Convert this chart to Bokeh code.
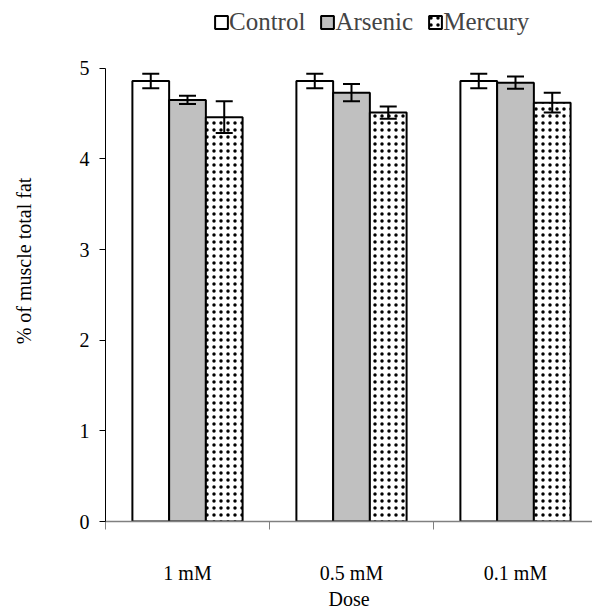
from bokeh.plotting import figure
from bokeh.models import (Range1d, FixedTicker, Whisker, TeeHead, ColumnDataSource,
                          Legend, LegendItem)
from bokeh.embed import file_html
from bokeh.resources import INLINE

doses = ["1 mM", "0.5 mM", "0.1 mM"]
series = ["Control", "Arsenic", "Mercury"]
control = [4.86, 4.86, 4.86]
arsenic = [4.65, 4.73, 4.84]
mercury = [4.46, 4.51, 4.62]
control_err = [0.08, 0.08, 0.08]
arsenic_err = [0.045, 0.095, 0.068]
mercury_err = [0.175, 0.067, 0.11]
y_ticks = [0, 1, 2, 3, 4, 5]

FONT = "Liberation Serif"
bar_w = 0.224
offsets = [-bar_w, 0.0, bar_w]
centers = [i + 0.5 for i in range(len(doses))]

p = figure(width=592, height=612, output_backend="svg", toolbar_location=None,
           x_range=Range1d(0, 487 / 164), y_range=Range1d(0, 531 / 92.4),
           min_border_left=105, min_border_right=0, min_border_top=0, min_border_bottom=81)
p.outline_line_color = None
p.xgrid.visible = False
p.ygrid.visible = False
p.background_fill_color = "white"
p.border_fill_color = "white"

styles = [
    dict(fill_color="white"),
    dict(fill_color="#C0C0C0"),
    dict(fill_color="white", hatch_pattern="dot", hatch_color="black", hatch_scale=7, hatch_weight=4),
]
vals = [control, arsenic, mercury]
errs = [control_err, arsenic_err, mercury_err]
renderers = []
for k in range(3):
    xs = [c + offsets[k] for c in centers]
    src = ColumnDataSource(dict(x=xs, top=vals[k],
                                upper=[v + e for v, e in zip(vals[k], errs[k])],
                                lower=[v - e for v, e in zip(vals[k], errs[k])]))
    r = p.vbar(x="x", top="top", width=bar_w, bottom=0, source=src,
               line_color="black", line_width=2, **styles[k])
    renderers.append(r)
    w = Whisker(base="x", upper="upper", lower="lower", source=src, dimension="height",
                line_color="black", line_width=2, level="annotation",
                upper_head=TeeHead(size=17, line_width=2, line_color="black"),
                lower_head=TeeHead(size=17, line_width=2, line_color="black"))
    p.add_layout(w)

# x axis
p.xaxis.ticker = FixedTicker(ticks=centers, minor_ticks=[0, 1, 2, 3])
p.xaxis.major_label_overrides = {c: d for c, d in zip(centers, doses)}
p.xaxis.major_tick_out = 0
p.xaxis.major_tick_in = 0
p.xaxis.minor_tick_out = 8
p.xaxis.minor_tick_in = 0
p.xaxis.minor_tick_line_color = "#808080"
p.xaxis.axis_line_color = "#808080"
p.xaxis.axis_line_width = 1.5
p.xaxis.major_label_standoff = 32
p.xaxis.axis_label = "Dose"
p.xaxis.axis_label_standoff = 1

# y axis
p.yaxis.ticker = FixedTicker(ticks=y_ticks)
p.yaxis.bounds = (y_ticks[0], y_ticks[-1])
p.yaxis.minor_tick_line_color = None
p.yaxis.major_tick_out = 6
p.yaxis.major_tick_in = 0
p.yaxis.axis_line_color = "black"
p.yaxis.major_label_standoff = 10
p.yaxis.axis_label = "% of muscle total fat"
p.yaxis.axis_label_standoff = 42

for ax in (p.xaxis, p.yaxis):
    ax.major_label_text_font = FONT
    ax.major_label_text_font_size = "20px"
    ax.major_label_text_color = "black"
    ax.axis_label_text_font = FONT
    ax.axis_label_text_font_size = "20px"
    ax.axis_label_text_font_style = "normal"
    ax.axis_label_text_color = "black"

legend = Legend(items=[LegendItem(label=s, renderers=[r]) for s, r in zip(series, renderers)],
                orientation="horizontal", location=(108, 485),
                label_text_font=FONT, label_text_font_size="25px",
                glyph_width=16, glyph_height=16, label_standoff=0, spacing=14,
                padding=0, margin=0, border_line_color=None, background_fill_alpha=0)
p.add_layout(legend)

open("out.html", "w").write(file_html(p, INLINE))
